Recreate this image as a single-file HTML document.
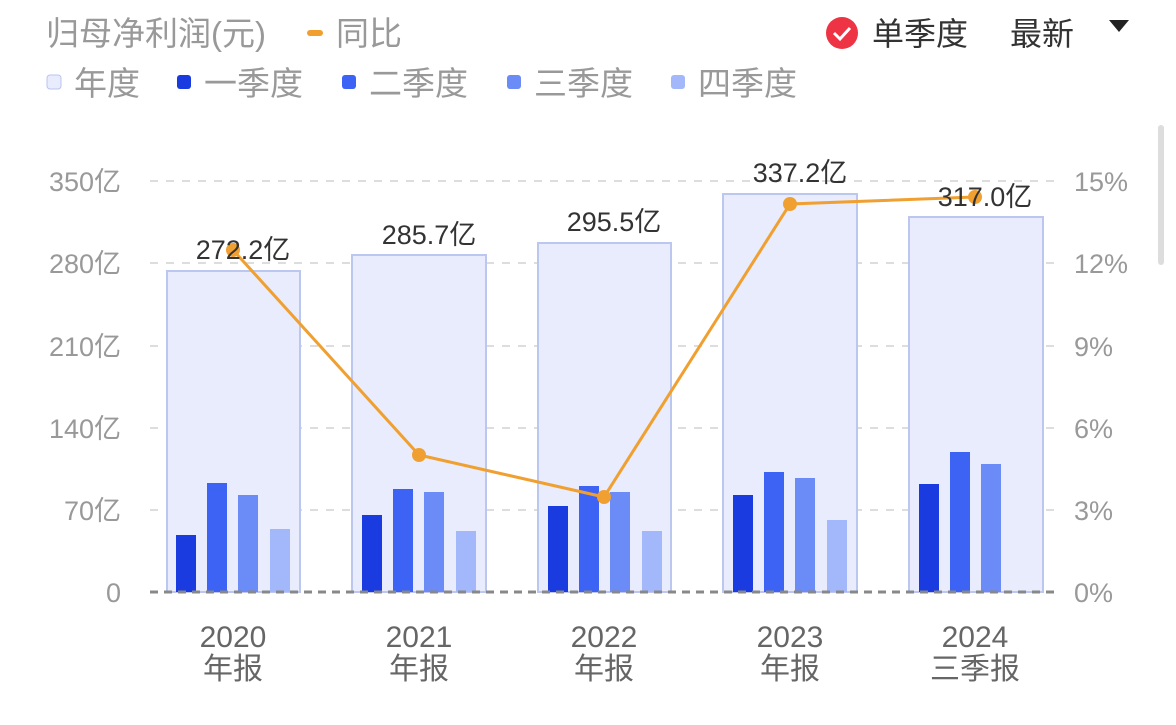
<!DOCTYPE html>
<html><head><meta charset="utf-8"><style>
body{margin:0;background:#fff;width:1176px;height:720px;overflow:hidden}
svg text{font-family:"Liberation Sans","Noto Sans CJK SC",sans-serif}
</style></head><body>
<svg width="1176" height="720" viewBox="0 0 1176 720">
<g font-size="33" fill="#999">
<text x="46" y="45">归母净利润(元)</text>
<rect x="307" y="30" width="16" height="6" rx="3" fill="#f0a030"/>
<text x="336" y="45" fill="#999">同比</text>
</g>
<circle cx="842" cy="33" r="16" fill="#ee3344"/>
<path d="M834 33 l6 6 l10 -11" stroke="#fff" stroke-width="3" fill="none"/>
<text x="872" y="45" font-size="32" fill="#333">单季度</text>
<text x="1010" y="45" font-size="32" fill="#333">最新</text>
<path d="M1109 20 h20 l-10 12 z" fill="#222"/>
<g font-size="33" fill="#999">
<rect x="47" y="75" width="14" height="14" rx="3" fill="#e8ecfc" stroke="#b8c4f0"/>
<text x="74" y="95">年度</text>
<rect x="177" y="75" width="14" height="14" rx="3" fill="#1a3be0"/>
<text x="204" y="95">一季度</text>
<rect x="342" y="75" width="14" height="14" rx="3" fill="#3d63f5"/>
<text x="369" y="95">二季度</text>
<rect x="507" y="75" width="14" height="14" rx="3" fill="#6b8cf7"/>
<text x="534" y="95">三季度</text>
<rect x="671" y="75" width="14" height="14" rx="3" fill="#a3b8fa"/>
<text x="698" y="95">四季度</text>
</g>
<g stroke="#ddd" stroke-width="2" stroke-dasharray="8 8">
<line x1="150" y1="181" x2="1060" y2="181"/>
<line x1="150" y1="263" x2="1060" y2="263"/>
<line x1="150" y1="346" x2="1060" y2="346"/>
<line x1="150" y1="428" x2="1060" y2="428"/>
<line x1="150" y1="510" x2="1060" y2="510"/>
</g>
<g fill="#e8ecfc" stroke="#bcc7f0" stroke-width="2">
<rect x="167" y="271" width="133" height="321"/>
<rect x="352" y="255" width="134" height="337"/>
<rect x="538" y="243" width="133" height="349"/>
<rect x="723" y="194" width="134" height="398"/>
<rect x="909" y="217" width="134" height="375"/>
</g>
<g>
<rect x="176" y="535" width="20" height="57" fill="#1a3be0"/><rect x="207" y="483" width="20" height="109" fill="#3d63f5"/><rect x="238" y="495" width="20" height="97" fill="#6b8cf7"/><rect x="270" y="529" width="20" height="63" fill="#a3b8fa"/>
<rect x="362" y="515" width="20" height="77" fill="#1a3be0"/><rect x="393" y="489" width="20" height="103" fill="#3d63f5"/><rect x="424" y="492" width="20" height="100" fill="#6b8cf7"/><rect x="456" y="531" width="20" height="61" fill="#a3b8fa"/>
<rect x="548" y="506" width="20" height="86" fill="#1a3be0"/><rect x="579" y="486" width="20" height="106" fill="#3d63f5"/><rect x="610" y="492" width="20" height="100" fill="#6b8cf7"/><rect x="642" y="531" width="20" height="61" fill="#a3b8fa"/>
<rect x="733" y="495" width="20" height="97" fill="#1a3be0"/><rect x="764" y="472" width="20" height="120" fill="#3d63f5"/><rect x="795" y="478" width="20" height="114" fill="#6b8cf7"/><rect x="827" y="520" width="20" height="72" fill="#a3b8fa"/>
<rect x="919" y="484" width="20" height="108" fill="#1a3be0"/><rect x="950" y="452" width="20" height="140" fill="#3d63f5"/><rect x="981" y="464" width="20" height="128" fill="#6b8cf7"/>
</g>
<line x1="150" y1="592" x2="1060" y2="592" stroke="#888" stroke-width="3" stroke-dasharray="8 6"/>
<polyline points="233,250 419,455 604,497 790,204 975,197" fill="none" stroke="#f0a030" stroke-width="3"/>
<g fill="#f0a030"><circle cx="233" cy="250" r="7"/><circle cx="419" cy="455" r="7"/><circle cx="604" cy="497" r="7"/><circle cx="790" cy="204" r="7"/><circle cx="975" cy="197" r="7"/></g>
<g font-size="27" fill="#333" text-anchor="middle">
<text x="243" y="259">272.2亿</text><text x="429" y="244">285.7亿</text><text x="614" y="231">295.5亿</text><text x="800" y="182">337.2亿</text><text x="985" y="206">317.0亿</text>
</g>
<g font-size="27" fill="#999" text-anchor="end">
<text x="121" y="191">350亿</text><text x="121" y="273">280亿</text><text x="121" y="356">210亿</text><text x="121" y="438">140亿</text><text x="121" y="520">70亿</text><text x="121" y="602">0</text>
</g>
<g font-size="27" fill="#999">
<text x="1074" y="191">15%</text><text x="1074" y="273">12%</text><text x="1074" y="356">9%</text><text x="1074" y="438">6%</text><text x="1074" y="520">3%</text><text x="1074" y="602">0%</text>
</g>
<g font-size="30" fill="#666" text-anchor="middle">
<text x="233" y="647">2020</text><text x="233" y="679">年报</text>
<text x="419" y="647">2021</text><text x="419" y="679">年报</text>
<text x="604" y="647">2022</text><text x="604" y="679">年报</text>
<text x="790" y="647">2023</text><text x="790" y="679">年报</text>
<text x="975" y="647">2024</text><text x="975" y="679">三季报</text>
</g>
<rect x="1158" y="125" width="6" height="140" rx="3" fill="#ddd"/>
</svg>
</body></html>
